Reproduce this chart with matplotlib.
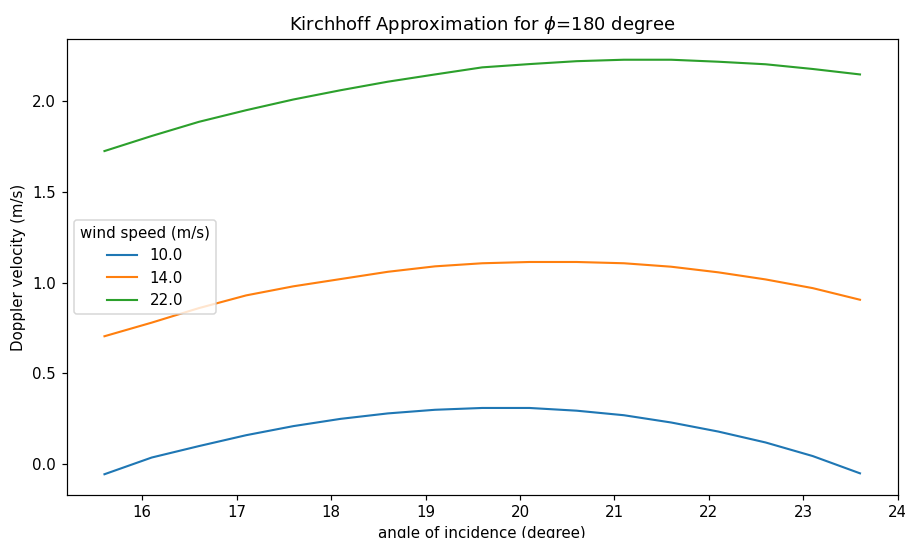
import matplotlib
matplotlib.use("Agg")
import matplotlib.pyplot as plt
import numpy as np

angles = [15.6, 16.1, 16.6, 17.1, 17.6, 18.1, 18.6, 19.1, 19.6, 20.1, 20.6,
          21.1, 21.6, 22.1, 22.6, 23.1, 23.6]
wind_speeds = ["10.0", "14.0", "22.0"]
v_10 = [-0.055, 0.037, 0.10, 0.16, 0.21, 0.25, 0.28, 0.30, 0.31, 0.31, 0.295,
        0.27, 0.23, 0.18, 0.12, 0.045, -0.05]
v_14 = [0.705, 0.78, 0.86, 0.93, 0.98, 1.02, 1.06, 1.09, 1.107, 1.114, 1.114,
        1.107, 1.088, 1.057, 1.018, 0.97, 0.906]
v_22 = [1.725, 1.808, 1.886, 1.95, 2.009, 2.06, 2.107, 2.147, 2.186, 2.204, 2.22,
        2.228, 2.228, 2.217, 2.203, 2.177, 2.147]

DPI = 108
fig = plt.figure(figsize=(905 / DPI, 538 / DPI), dpi=DPI)
ax = fig.add_axes([0.0737, 0.080, 0.9183, 0.8475])
for lab, vals in zip(wind_speeds, [v_10, v_14, v_22]):
    ax.plot(angles, vals, label=lab, linewidth=1.4)
ax.set_title(r"Kirchhoff Approximation for $\phi$=180 degree")
ax.set_xlabel("angle of incidence (degree)")
ax.set_ylabel("Doppler velocity (m/s)")
ax.legend(title="wind speed (m/s)", loc="center left")
fig.savefig("out.png", dpi=DPI)
